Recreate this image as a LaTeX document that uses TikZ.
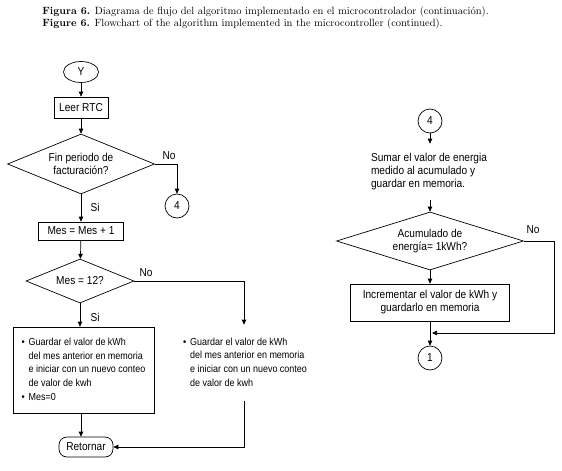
\documentclass[tikz,border=0pt]{standalone}
\usepackage{fontspec}
\newfontfamily\chartfont[FakeStretch=0.88]{Liberation Sans}
\usetikzlibrary{shapes.geometric,arrows.meta,positioning}

\tikzset{
  base/.style={font=\chartfont\fontsize{11.5}{13}\selectfont},
  procbox/.style={draw, rectangle, inner sep=0pt, align=center},
  decision/.style={draw, diamond, inner sep=0pt, align=center, aspect=#1},
  decision/.default=2.45,
  connector/.style={draw, circle, minimum size=24pt, inner sep=0pt},
  terminal/.style={draw, rectangle, rounded corners=8pt, inner sep=0pt},
  note/.style={font=\chartfont\fontsize{10.2}{13.7}\selectfont, inner sep=0pt},
  arr/.style={-{Triangle[length=5pt,width=4.5pt]}},
}

\begin{document}
\begin{tikzpicture}[x=1pt, y=-1pt, base, line width=0.7pt]
  \useasboundingbox (0,0) rectangle (562,471);
  % Caption
  \node[anchor=north west, inner sep=0pt, align=left,
        font=\fontsize{10.5}{12.5}\selectfont] (caption) at (42,6)
    {\textbf{Figura 6.} Diagrama de flujo del algoritmo implementado en el microcontrolador (continuación).\\
     \textbf{Figure 6.} Flowchart of the algorithm implemented in the microcontroller (continued).};

  % Left column
  \node[draw, ellipse, minimum width=35pt, minimum height=21pt, inner sep=0pt] (Y) at (81,72) {Y};
  \node[procbox, minimum width=54pt, minimum height=21pt] (rtc) at (81,107.5) {Leer RTC};
  \node[decision, minimum width=147pt, minimum height=60pt] (fin) at (81,164) {Fin periodo de\\facturación?};
  \node[connector] (goto4) at (177,206) {4};
  \node[procbox, minimum width=85pt, minimum height=18pt] (mes) at (81,231) {Mes = Mes + 1};
  \node[decision, minimum width=108pt, minimum height=44pt] (doce) at (80,281) {Mes = 12?};
  \node[procbox, minimum width=141pt, minimum height=86pt, note] (reset) at (83.5,370)
    {\begin{tabular}{@{}l@{\hspace{4pt}}l@{}}
       \textbullet & Guardar el valor de kWh\\
                   & del mes anterior en memoria\\
                   & e iniciar con un nuevo conteo\\
                   & de valor de kwh\\
       \textbullet & Mes=0
     \end{tabular}};
  \node[note, minimum height=76pt] (keep) at (245,363)
    {\begin{tabular}{@{}l@{\hspace{4pt}}l@{}}
       \textbullet & Guardar el valor de kWh\\
                   & del mes anterior en memoria\\
                   & e iniciar con un nuevo conteo\\
                   & de valor de kwh
     \end{tabular}};
  \node[terminal, minimum width=54pt, minimum height=20pt] (ret) at (86,447) {Retornar};

  % Right column
  \node[connector] (from4) at (430,121) {4};
  \node[align=left, inner sep=0pt, minimum height=56pt] (sumar) at (429,172)
    {Sumar el valor de energia\\medido al acumulado y\\guardar en memoria.};
  \node[decision=3.2, minimum width=187pt, minimum height=58pt] (kwh) at (430,241) {Acumulado de\\energía= 1kWh?};
  \node[procbox, minimum width=159pt, minimum height=37pt] (incr) at (430,302.5)
    {Incrementar el valor de kWh y\\guardarlo en memoria};
  \node[connector] (goto1) at (430,358) {1};
  \coordinate (join) at (430,333);

  % Connectors, left
  \draw[arr] (Y) -- (rtc);
  \draw[arr] (rtc) -- (fin);
  \draw[arr] (fin.east) -| (goto4.north);
  \node[anchor=south] at (169,163) {No};
  \draw[arr] (fin.south) -- (mes.north);
  \node[anchor=west] at (87,207) {Si};
  \draw[arr] (mes) -- (doce);
  \draw[arr] (doce.east) -| (keep.north -| 244,0);
  \node[anchor=south] at (146,280) {No};
  \draw[arr] (doce.south) -- (reset.north -| doce.south);
  \node[anchor=west] at (87,317) {Si};
  \draw[arr] (reset.south -| mes.south) -- (ret.north -| mes.south);
  \draw[arr] (keep.south -| 244,0) |- (ret.east);

  % Connectors, right
  \draw[arr] (from4) -- (sumar.north -| from4);
  \draw[arr] (sumar.south -| kwh.north) -- (kwh.north);
  \draw[arr] (kwh.south) -- (incr.north -| kwh.south);
  \draw[arr] (incr.south -| goto1) -- (goto1.north);
  \draw[arr] (kwh.east) -- ++(30.5,0) |- ([xshift=2pt]join);
  \node[anchor=south] at (533,237) {No};
\end{tikzpicture}
\end{document}
